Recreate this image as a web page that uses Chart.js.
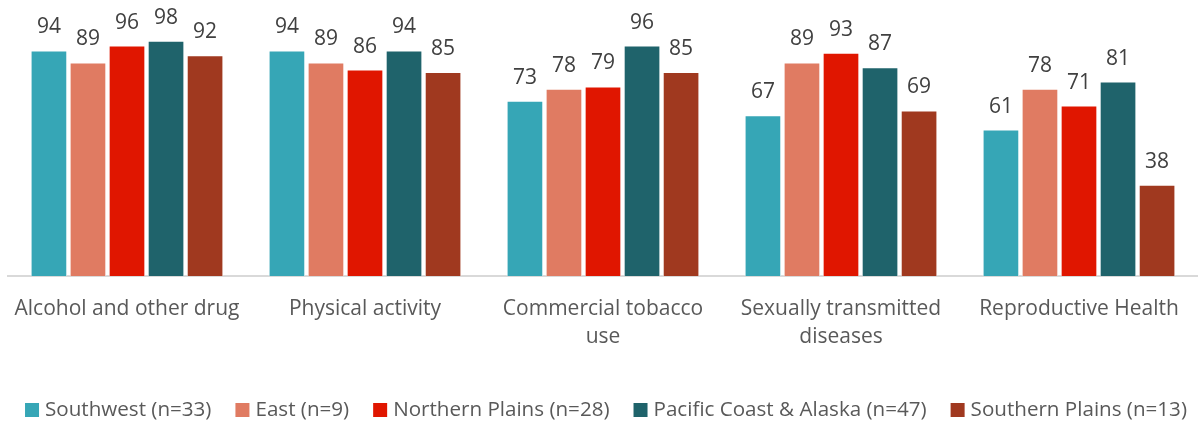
<!DOCTYPE html>
<html><head><meta charset="utf-8">
<script src="https://cdn.jsdelivr.net/npm/chart.js@4/dist/chart.umd.min.js"></script>
<style>html,body{margin:0;padding:0;background:#fff}#wrap{width:1198px;height:423px}</style>
</head><body><div id="wrap"><canvas id="c"></canvas></div>
<script>
const categories = [["Alcohol and other drug"],["Physical activity"],["Commercial tobacco","use"],["Sexually transmitted","diseases"],["Reproductive Health"]];
const southwest = [94, 94, 73, 67, 61];
const east = [89, 89, 78, 89, 78];
const northernPlains = [96, 86, 79, 93, 71];
const pacificCoast = [98, 94, 96, 87, 81];
const southernPlains = [92, 85, 85, 69, 38];
const seriesNames = ["Southwest (n=33)","East (n=9)","Northern Plains (n=28)","Pacific Coast & Alaska (n=47)","Southern Plains (n=13)"];
const colors = ["#36A6B6","#E07B62","#E01600","#1F636B","#A0391F"];
const FONT = "'Open Sans', sans-serif";

const valueLabels = {
  id:'valueLabels',
  afterDatasetsDraw(chart){
    const ctx = chart.ctx;
    ctx.save();
    ctx.font = "21px " + FONT;
    ctx.fillStyle = "#404040";
    ctx.textAlign = "center";
    ctx.textBaseline = "alphabetic";
    chart.data.datasets.forEach((ds,i)=>{
      chart.getDatasetMeta(i).data.forEach((bar,j)=>{
        ctx.fillText(String(ds.data[j]), bar.x, bar.y - 17);
      });
    });
    ctx.restore();
  }
};

const bottomLegend = {
  id:'bottomLegend',
  afterDraw(chart){
    const ctx = chart.ctx;
    ctx.save();
    ctx.font = "20.6px " + FONT;
    ctx.textBaseline = "middle";
    ctx.textAlign = "left";
    const box = 14, gapBT = 6, gapItem = 24;
    const items = chart.data.datasets.map(ds=>({text:ds.label, color:ds.backgroundColor, w: box + gapBT + ctx.measureText(ds.label).width}));
    const total = items.reduce((s,it)=>s+it.w,0) + gapItem*(items.length-1);
    let x = 606 - total/2;
    const y = 410;
    items.forEach(it=>{
      ctx.fillStyle = it.color;
      ctx.fillRect(x, y - box/2, box, box);
      ctx.fillStyle = "#595959";
      ctx.fillText(it.text, x + box + gapBT, y);
      x += it.w + gapItem;
    });
    ctx.restore();
  }
};

const data = [southwest, east, northernPlains, pacificCoast, southernPlains];
new Chart(document.getElementById('c'), {
  type:'bar',
  data:{
    labels: categories,
    datasets: data.map((d,i)=>({label:seriesNames[i], data:d, backgroundColor:colors[i], borderColor:'#ffffff', borderWidth:1, barPercentage:0.94, categoryPercentage:0.82}))
  },
  options:{
    responsive:true, maintainAspectRatio:false, animation:false,
    layout:{padding:{top:36,left:8,right:0,bottom:53}},
    plugins:{
      legend:{display:false},
      tooltip:{enabled:false}
    },
    scales:{
      x:{grid:{display:false, drawTicks:false}, border:{color:'#d9d9d9', width:2}, ticks:{font:{family:FONT,size:21, lineHeight:1.38}, color:'#595959', padding:18},
         afterFit(scale){ scale.paddingLeft = 0; scale.paddingRight = 0; }},
      y:{display:false, min:0, max:100}
    }
  },
  plugins:[valueLabels, bottomLegend]
});
</script></body></html>
